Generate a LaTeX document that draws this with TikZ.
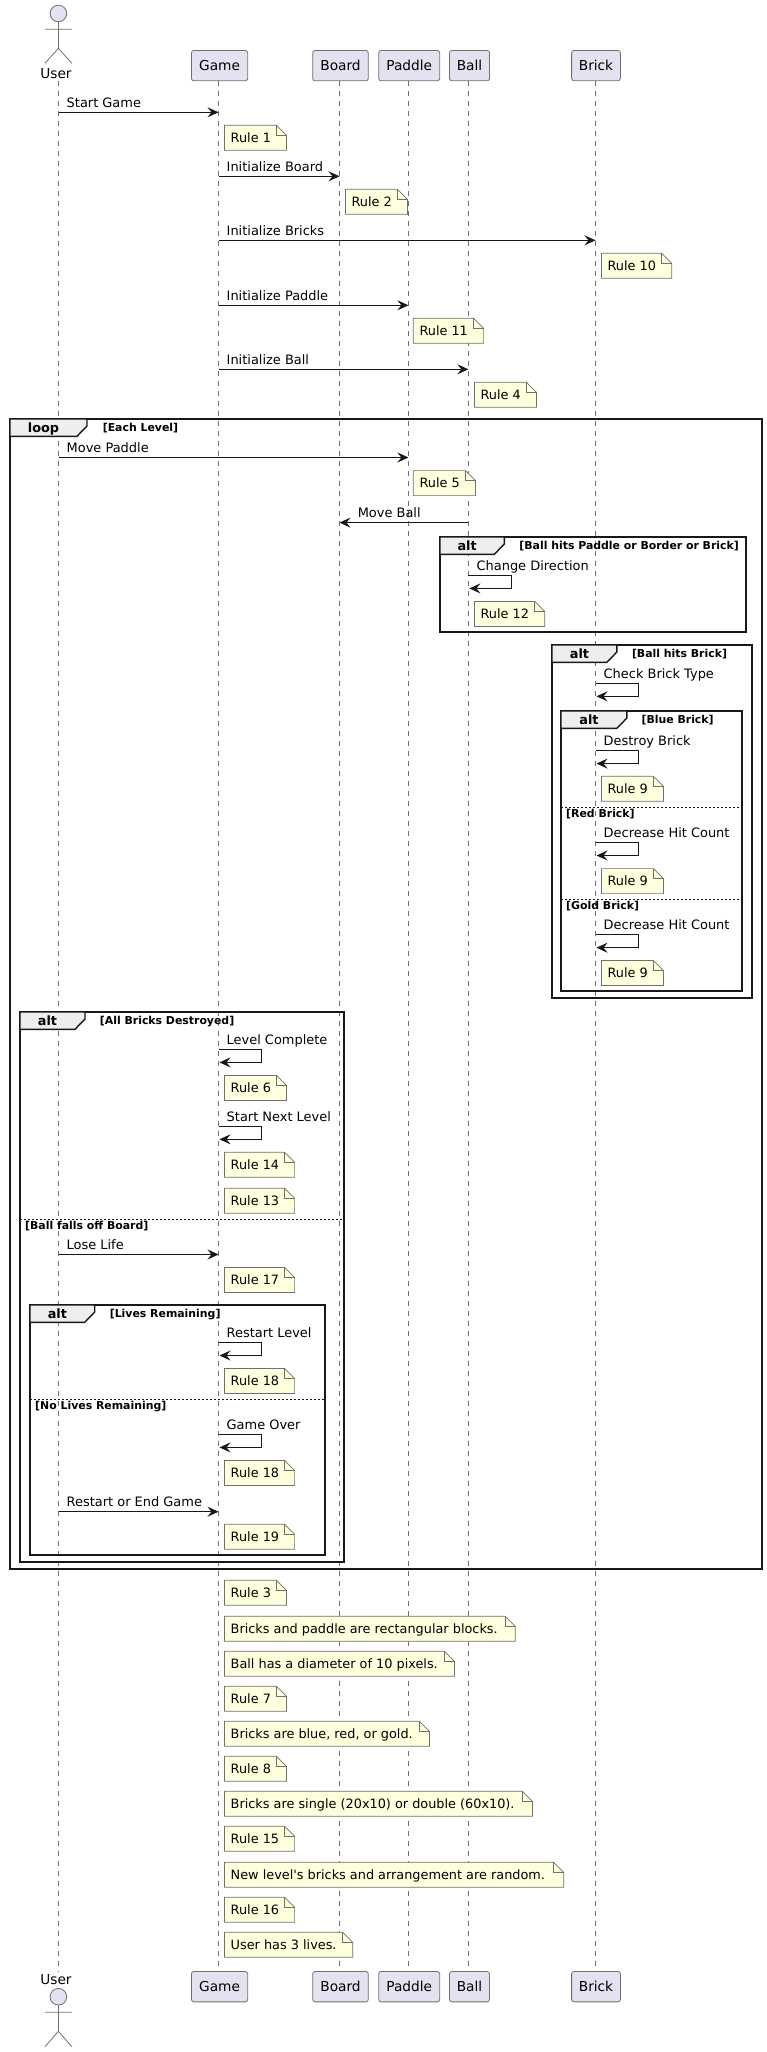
\documentclass[tikz,border=0pt]{standalone}
\usepackage{fontspec}
\setmainfont{DejaVu Sans}
\usetikzlibrary{arrows.meta}
\definecolor{partfill}{HTML}{E2E2F0}
\definecolor{notefill}{HTML}{FEFFDD}
\definecolor{tabfill}{HTML}{EEEEEE}
\definecolor{ink}{HTML}{181818}
\definecolor{thin}{HTML}{707070}
\tikzset{
  partbox/.style={draw=thin,fill=partfill,line width=.8pt,rounded corners=2.5pt,inner xsep=0pt,inner ysep=0pt,
    text height=19.7pt,text depth=10.7pt,font=\fontsize{13.7}{16}\selectfont},
  actorline/.style={draw=thin,line width=.8pt},
  actorhead/.style={draw=thin,fill=partfill,line width=.8pt},
  actorlabel/.style={anchor=base,inner sep=0pt,font=\fontsize{13.7}{16}\selectfont},
  lifeline/.style={draw=thin,line width=.7pt,dash pattern=on 5pt off 5pt},
  msgline/.style={draw=ink,line width=1pt,-{Stealth[length=11pt,width=10pt,inset=4pt]}},
  msglabel/.style={anchor=base west,inner sep=0pt,font=\fontsize{12.95}{15}\selectfont},
  notepath/.style={draw=thin,fill=notefill,line width=.7pt},
  notelabel/.style={anchor=base west,inner sep=0pt,font=\fontsize{12.85}{15}\selectfont},
  frameline/.style={draw=ink,line width=1.9pt},
  tabpath/.style={draw=ink,fill=tabfill,line width=1.4pt},
  framekey/.style={anchor=base,inner sep=0pt,font=\bfseries\fontsize{12.8}{15}\selectfont},
  framecond/.style={anchor=base west,inner sep=0pt,font=\bfseries\fontsize{10.9}{13}\selectfont},
  sepline/.style={draw=ink,line width=.8pt,dash pattern=on 2pt off 2pt},
}
% name, x1, y1, x2, y2, text
\newcommand\partic[6]{\node[partbox,minimum width=#4pt-#2pt] (#1) at ({(#2+#4)/2},{(#3+#5)/2}) {#6};}
% name, from, to, y, text, label x offset
\newcommand\msg[6]{%
  \coordinate (#1a) at (#2 |- 0,#4);
  \coordinate (#1b) at (#3 |- 0,#4);
  \draw[msgline] (#1a) -- (#1b);
  \node[msglabel] (#1t) at ([shift={(#6,-5)}]#1a) {#5};}
% name, lifeline, top y, text
\newcommand\selfmsg[4]{%
  \coordinate (#1a) at (#2 |- 0,#3);
  \coordinate (#1b) at ([xshift=43pt]#1a);
  \coordinate (#1c) at ([shift={(43,13)}]#1a);
  \coordinate (#1d) at ([shift={(1,13)}]#1a);
  \draw[msgline] (#1a) -- (#1b) -- (#1c) -- (#1d);
  \node[msglabel] (#1t) at ([shift={(8,-5)}]#1a) {#4};}
% name, x1, y1, x2, text
\newcommand\notebox[5]{%
  \draw[notepath] (#2,#3) -- ({#4-10},#3) -- (#4,{#3+10}) -- (#4,{#3+25}) -- (#2,{#3+25}) -- cycle;
  \draw[notepath,fill=none] ({#4-10},#3) -- ({#4-10},{#3+10}) -- (#4,{#3+10});
  \node[notelabel] (#1) at ({#2+6},{#3+17}) {#5};}
% name, x1, y1, x2, y2, tab right, keyword, condition, condition x
\newcommand\fragment[9]{%
  \draw[frameline] (#2,#3) rectangle (#4,#5);
  \draw[tabpath] (#2,#3) -- (#6,#3) -- (#6,{#3+7}) -- ({#6-10},{#3+17.3}) -- (#2,{#3+17.3}) -- cycle;
  \node[framekey] (#1k) at ({(#2+#6-10)/2},{#3+13.5}) {#7};
  \node[framecond] (#1c) at (#9,{#3+12.5}) {#8};}
% name, x1, x2, y, text
\newcommand\separator[5]{%
  \draw[sepline] (#2,#4) -- (#3,#4);
  \node[framecond] (#1) at ({#2+5},{#4+10}) {#5};}

\begin{document}
\begin{tikzpicture}[x=1pt,y=-1pt]
\useasboundingbox (0,0) rectangle (766,2052);
\fill[white] (0,0) rectangle (766,2052);

% lifeline x positions
\coordinate (Luser) at (58.5,0);
\coordinate (Lgame) at (218.5,0);
\coordinate (Lboard) at (339.5,0);
\coordinate (Lpaddle) at (408.4,0);
\coordinate (Lball) at (468.4,0);
\coordinate (Lbrick) at (595.5,0);

% top and bottom participants
\partic{gameT}{191.4}{50.5}{247.7}{80.8}{Game}
\partic{boardT}{312.7}{50.5}{368.3}{80.8}{Board}
\partic{paddleT}{378.7}{50.5}{439.7}{80.8}{Paddle}
\partic{ballT}{449.5}{50.5}{489.5}{80.8}{Ball}
\partic{brickT}{571.6}{50.5}{620.4}{80.8}{Brick}
\partic{gameB}{191.4}{1971.5}{247.7}{2001.8}{Game}
\partic{boardB}{312.7}{1971.5}{368.3}{2001.8}{Board}
\partic{paddleB}{378.7}{1971.5}{439.7}{2001.8}{Paddle}
\partic{ballB}{449.5}{1971.5}{489.5}{2001.8}{Ball}
\partic{brickB}{571.6}{1971.5}{620.4}{2001.8}{Brick}

% actors
\node[actorlabel] (userT) at (56,78.6) {User};
\node[actorlabel] (userB) at (56,1984) {User};
\draw[actorhead] (58.4,13.5) circle (8.3pt);
\draw[actorline] (58.4,21.8) -- (58.4,48.3) (45,29.3) -- (71.8,29.3) (45,63.3) -- (58.4,48.3) -- (71.8,63.3);
\draw[actorhead] (58.4,1996.7) circle (8.3pt);
\draw[actorline] (58.4,2005) -- (58.4,2031.3) (45,2012.3) -- (71.8,2012.3) (45,2046.7) -- (58.4,2031.3) -- (71.8,2046.7);

% lifelines
\coordinate (uTop) at (Luser |- 0,81);
\coordinate (uBot) at (Luser |- 0,1971.5);
\draw[lifeline] (uTop) -- (uBot);
\draw[lifeline] (Lgame |- gameT.south) -- (Lgame |- gameB.north);
\draw[lifeline] (Lboard |- boardT.south) -- (Lboard |- boardB.north);
\draw[lifeline] (Lpaddle |- paddleT.south) -- (Lpaddle |- paddleB.north);
\draw[lifeline] (Lball |- ballT.south) -- (Lball |- ballB.north);
\draw[lifeline] (Lbrick |- brickT.south) -- (Lbrick |- brickB.north);

% opening sequence
\msg{m1}{Luser}{Lgame}{112.3}{Start Game}{8}
\notebox{n1}{224.5}{125.3}{286.5}{Rule 1}
\msg{m2}{Lgame}{Lboard}{176.3}{Initialize Board}{8}
\notebox{n2}{345.4}{189.3}{407.4}{Rule 2}
\msg{m3}{Lgame}{Lbrick}{240.3}{Initialize Bricks}{8}
\notebox{n3}{601.4}{253.3}{671.7}{Rule 10}
\msg{m4}{Lgame}{Lpaddle}{305.3}{Initialize Paddle}{8}
\notebox{n4}{413.3}{318.3}{483.6}{Rule 11}
\msg{m5}{Lgame}{Lball}{369.3}{Initialize Ball}{8}
\notebox{n5}{474.4}{382.3}{536.4}{Rule 4}

% loop
\fragment{fLoop}{10}{419}{762}{1569}{87}{loop}{[Each Level]}{102.6}
\msg{m6}{Luser}{Lpaddle}{457.5}{Move Paddle}{8}
\notebox{n6}{413.3}{470.6}{475.4}{Rule 5}
\msg{m7}{Lball}{Lboard}{522.6}{Move Ball}{-110.8}

\fragment{fA}{440}{537}{746}{632}{504.3}{alt}{[Ball hits Paddle or Border or Brick]}{519.2}
\selfmsg{m8}{Lball}{575.4}{Change Direction}
\notebox{n7}{474.4}{601.4}{544.7}{Rule 12}

\fragment{fB}{552}{645}{752}{998}{616.9}{alt}{[Ball hits Brick]}{631.8}
\selfmsg{m9}{Lbrick}{683.3}{Check Brick Type}

\fragment{fC}{561}{711}{742}{991}{626.9}{alt}{[Blue Brick]}{641.4}
\selfmsg{m10}{Lbrick}{750.6}{Destroy Brick}
\notebox{n8}{601.4}{776.3}{663.4}{Rule 9}
\separator{sC1}{561}{742}{807.7}{[Red Brick]}
\selfmsg{m11}{Lbrick}{842.5}{Decrease Hit Count}
\notebox{n9}{601.4}{868.6}{663.4}{Rule 9}
\separator{sC2}{561}{742}{899.5}{[Gold Brick]}
\selfmsg{m12}{Lbrick}{934.7}{Decrease Hit Count}
\notebox{n10}{601.4}{960.5}{663.4}{Rule 9}

\fragment{fD}{20}{1012}{344}{1562}{85}{alt}{[All Bricks Destroyed]}{99.7}
\selfmsg{m13}{Lgame}{1049.4}{Level Complete}
\notebox{n11}{224.5}{1075.4}{286.5}{Rule 6}
\selfmsg{m14}{Lgame}{1126.3}{Start Next Level}
\notebox{n12}{224.5}{1152.3}{294.6}{Rule 14}
\notebox{n13}{224.5}{1188.3}{294.6}{Rule 13}
\separator{sD}{20}{344}{1219.3}{[Ball falls off Board]}
\msg{m15}{Luser}{Lgame}{1254.5}{Lose Life}{8}
\notebox{n14}{224.5}{1267.5}{294.6}{Rule 17}

\fragment{fE}{30}{1305}{325}{1555}{94.7}{alt}{[Lives Remaining]}{109.6}
\selfmsg{m16}{Lgame}{1342.5}{Restart Level}
\notebox{n15}{224.5}{1368.5}{294.6}{Rule 18}
\separator{sE}{30}{325}{1399.5}{[No Lives Remaining]}
\selfmsg{m17}{Lgame}{1434.4}{Game Over}
\notebox{n16}{224.5}{1460.4}{294.6}{Rule 18}
\msg{m18}{Luser}{Lgame}{1511.7}{Restart or End Game}{8}
\notebox{n17}{224.5}{1524.3}{294.6}{Rule 19}

% closing notes
\notebox{n18}{224.5}{1580.3}{286.5}{Rule 3}
\notebox{n19}{224.5}{1616.3}{515.2}{Bricks and paddle are rectangular blocks.}
\notebox{n20}{224.5}{1651.3}{454.4}{Ball has a diameter of 10 pixels.}
\notebox{n21}{224.5}{1686.3}{286.5}{Rule 7}
\notebox{n22}{224.5}{1721.3}{429.5}{Bricks are blue, red, or gold.}
\notebox{n23}{224.5}{1756.3}{286.5}{Rule 8}
\notebox{n24}{224.5}{1791.3}{532.5}{Bricks are single (20x10) or double (60x10).}
\notebox{n25}{224.5}{1826.3}{294.6}{Rule 15}
\notebox{n26}{224.5}{1862.3}{563.8}{New level\textquotesingle s bricks and arrangement are random.}
\notebox{n27}{224.5}{1897.3}{294.6}{Rule 16}
\notebox{n28}{224.5}{1932.3}{352.8}{User has 3 lives.}
\end{tikzpicture}
\end{document}
